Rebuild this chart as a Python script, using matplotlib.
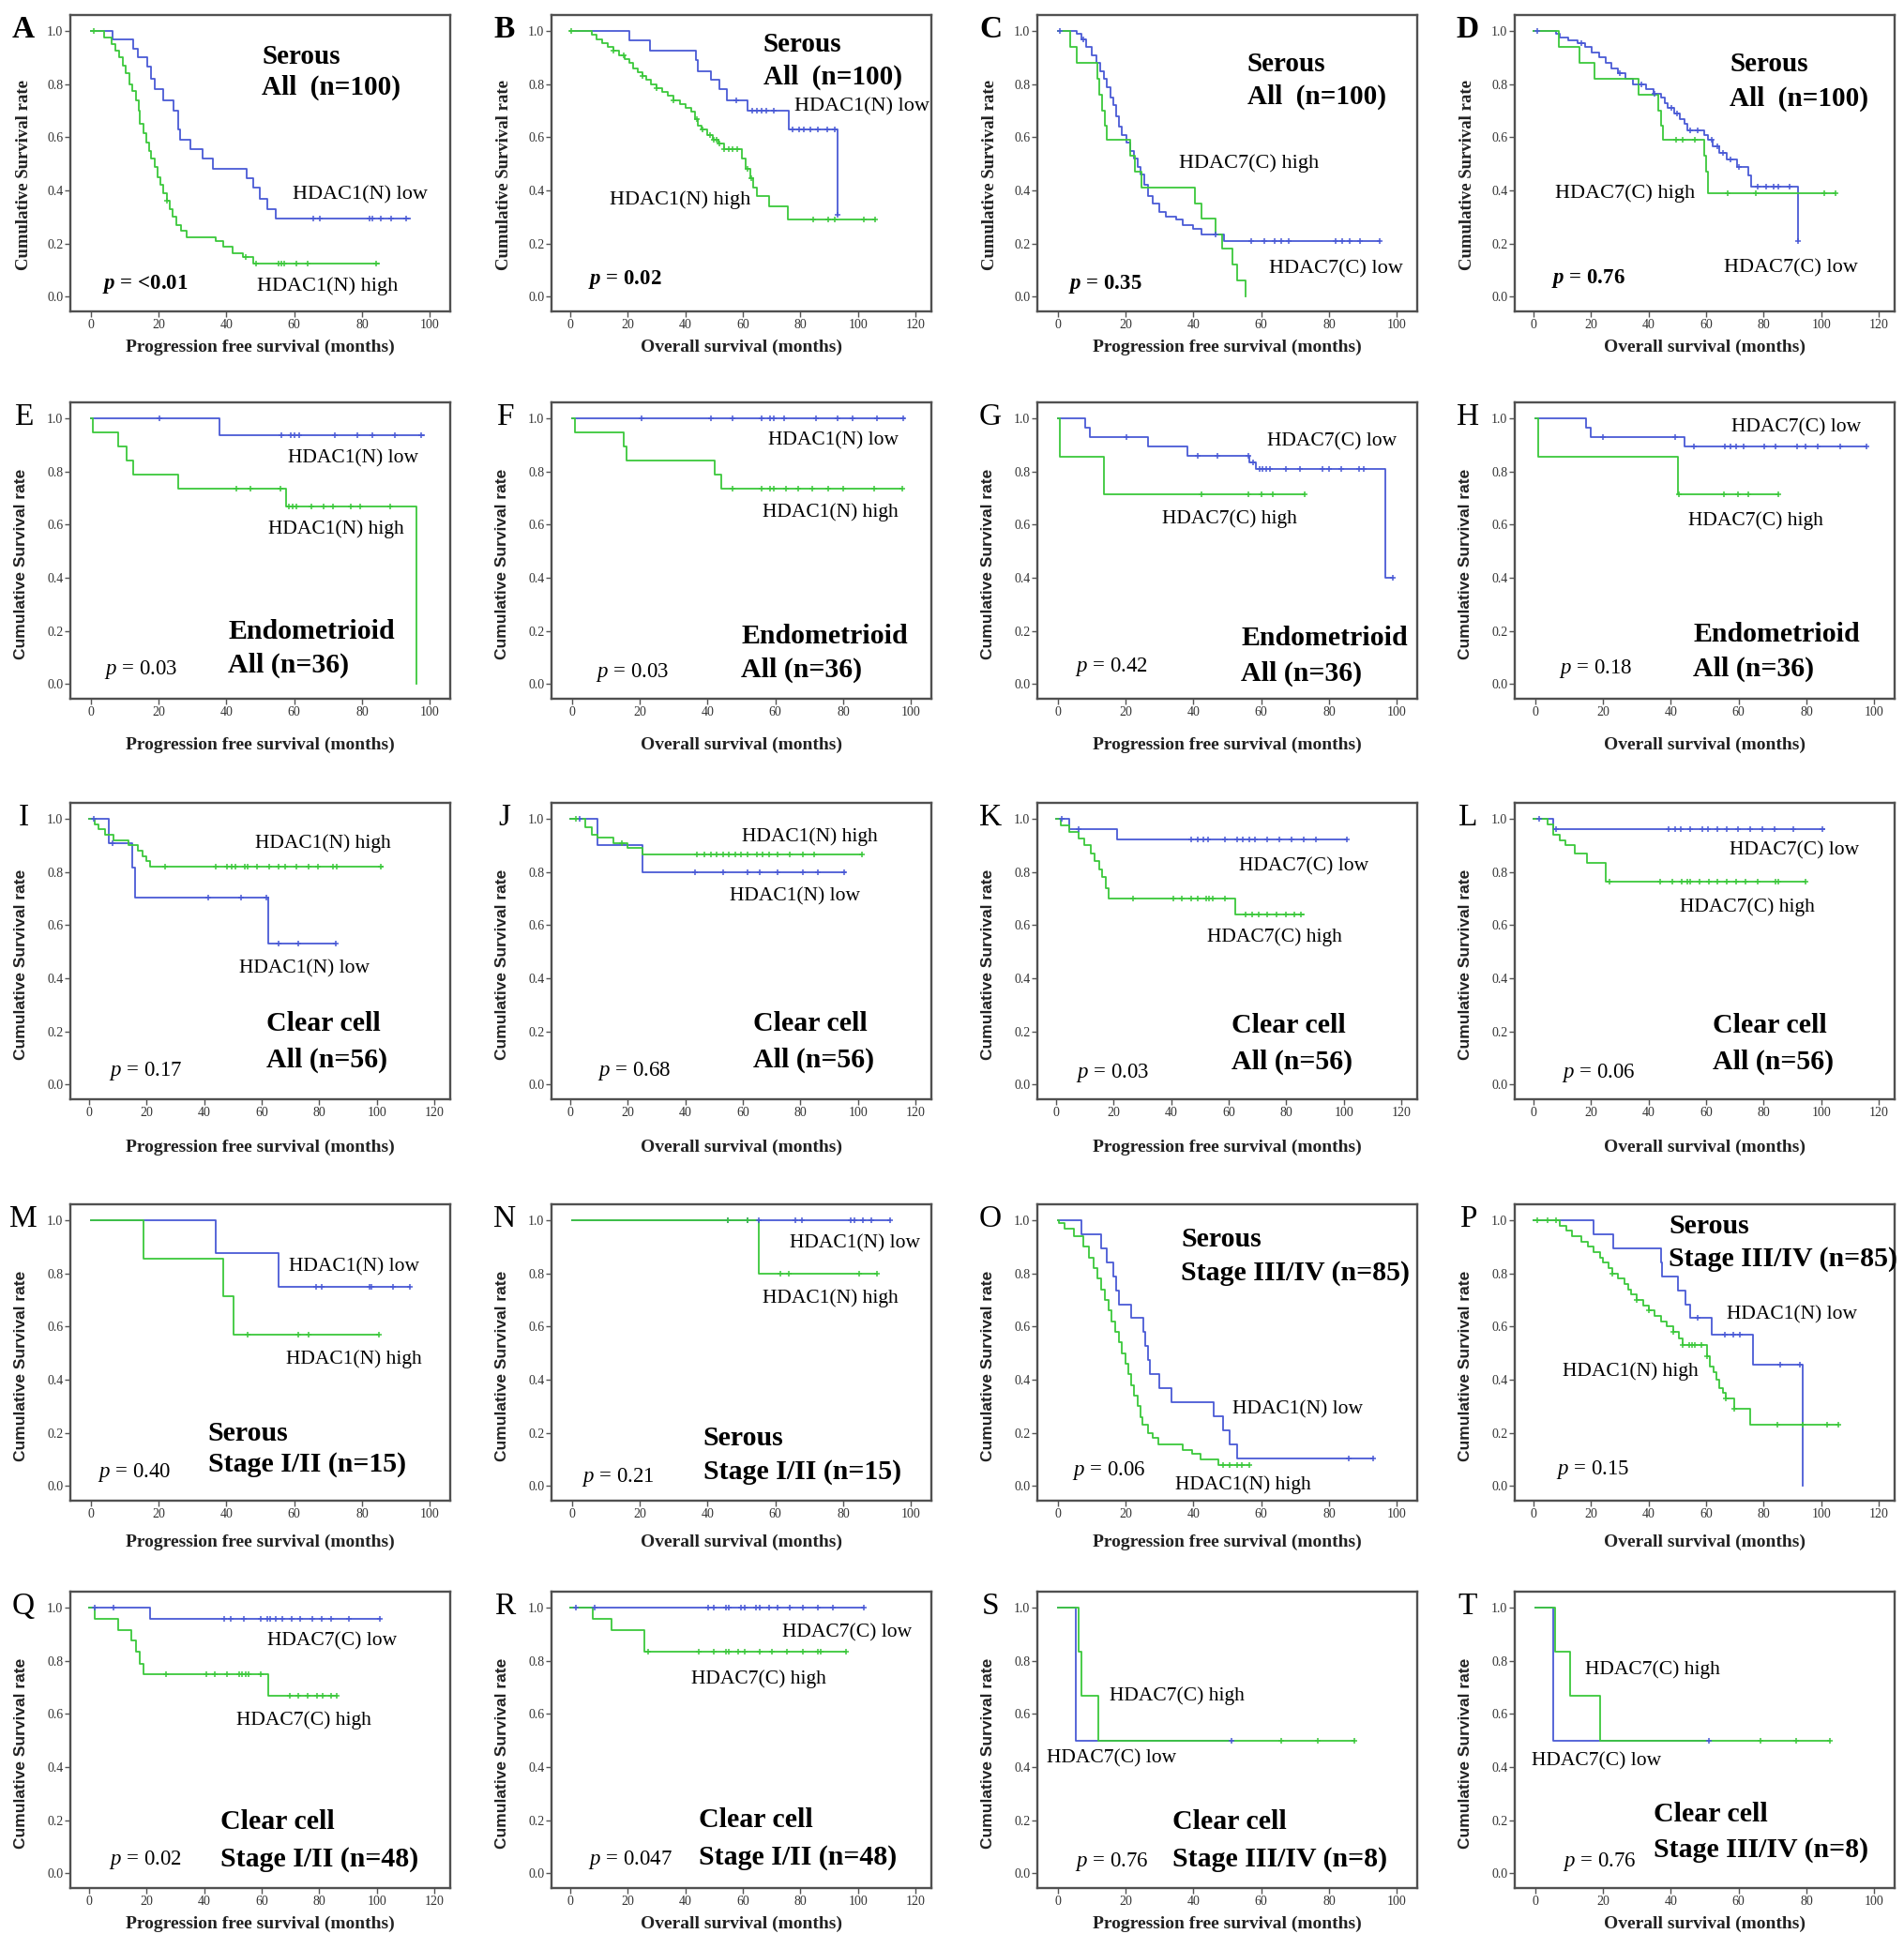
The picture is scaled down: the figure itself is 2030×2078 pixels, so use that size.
"""Kaplan-Meier panels: HDAC1(N) / HDAC7(C) expression vs survival by histology."""

import matplotlib

matplotlib.use("Agg")

import matplotlib.pyplot as plt
import numpy as np

plt.rcParams["font.family"] = ["Liberation Serif", "DejaVu Serif"]
plt.rcParams["mathtext.fontset"] = "custom"
plt.rcParams["mathtext.rm"] = "Liberation Serif"
plt.rcParams["mathtext.it"] = "Liberation Serif:italic"
plt.rcParams["mathtext.bf"] = "Liberation Serif:bold:italic"

BLUE = "#4a5ad6"
GREEN = "#3cc83c"

# ---- survival curves: step times, survival after step, censor times ----
A_LOW_T = [0, 6.5, 12.5, 13.8, 16.6, 17.8, 18.8, 21.5, 24.5, 25.8, 26.4, 29.5, 33, 36, 46, 48, 50, 52, 54.5, 94]
A_LOW_S = [1.0, 0.967, 0.933, 0.90, 0.867, 0.82, 0.78, 0.74, 0.70, 0.63, 0.59, 0.555, 0.52, 0.48, 0.445, 0.41, 0.37, 0.33, 0.295, 0.295]
A_LOW_C = [65.5, 67.5, 82.3, 83, 85.5, 88.6, 92.9]
A_HIGH_T = [0, 4, 6.3, 7.2, 8.4, 9.5, 10.4, 11.3, 12.2, 13.4, 14.1, 14.6, 15.5, 16.4, 17.3, 17.9, 18.8, 19.6, 20.5, 21.5,
            22.4, 23.3, 24.2, 25.2, 26.6, 28.4, 37, 39, 41.8, 45, 48, 85]
A_HIGH_S = [1.0, 0.975, 0.95, 0.925, 0.90, 0.87, 0.84, 0.80, 0.775, 0.74, 0.70, 0.65, 0.615, 0.58, 0.55, 0.52, 0.49, 0.45,
            0.42, 0.39, 0.36, 0.33, 0.30, 0.27, 0.25, 0.225, 0.21, 0.19, 0.165, 0.15, 0.125, 0.125]
A_HIGH_C = [1, 22.5, 45.6, 48.7, 55.5, 56.3, 57, 60.6, 63.9, 84.1]

B_LOW_T = [0, 20.7, 27.8, 43.6, 44.5, 49, 52, 54.3, 61.6, 75.8, 92.9, 92.9]
B_LOW_S = [1.0, 0.963, 0.926, 0.89, 0.85, 0.815, 0.78, 0.74, 0.70, 0.63, 0.31, 0.31]
B_LOW_C = [57.8, 63.2, 64.9, 66.5, 68.2, 70.9, 77.4, 79.6, 81.2, 83.4, 86.1, 89.4, 91.8, 92.9]
B_HIGH_T = [0, 7.6, 9, 11, 13, 15, 17, 19, 20.5, 22, 23.5, 25, 26.5, 28, 30, 32, 34, 36, 38, 40, 42, 43.5, 44.5, 45.5,
            47.5, 49.5, 51.5, 53.5, 59.8, 61, 62.5, 63.5, 65, 69, 75.5, 106]
B_HIGH_S = [1.0, 0.985, 0.97, 0.955, 0.94, 0.925, 0.91, 0.895, 0.88, 0.86, 0.845, 0.83, 0.815, 0.80, 0.785, 0.77, 0.755,
            0.74, 0.725, 0.71, 0.695, 0.67, 0.645, 0.63, 0.61, 0.59, 0.575, 0.555, 0.52, 0.48, 0.445, 0.41, 0.38, 0.34,
            0.29, 0.29]
B_HIGH_C = [0.5, 15, 18.5, 25, 30, 36, 44, 46, 48.5, 50, 51, 52, 53.5, 55, 56.5, 58, 61.5, 63, 84.5, 89.5, 92, 102, 106]

C_LOW_T = [0, 5.5, 7, 8.5, 10, 11.5, 12.5, 13.5, 14.5, 15.5, 16.5, 17.3, 18, 19, 20.3, 21.5, 22.5, 23.5, 24.5, 25.5,
           26.5, 28, 30, 32, 35, 37, 40, 42.5, 49, 95]
C_LOW_S = [1.0, 0.99, 0.97, 0.94, 0.91, 0.88, 0.85, 0.82, 0.79, 0.75, 0.72, 0.68, 0.64, 0.61, 0.58, 0.55, 0.52, 0.49,
           0.46, 0.42, 0.38, 0.35, 0.32, 0.30, 0.29, 0.27, 0.255, 0.235, 0.21, 0.21]
C_LOW_C = [0.7, 7.5, 46.5, 57, 61, 64, 66, 68, 82, 84, 86, 89, 95]
C_HIGH_T = [0, 3.7, 5.6, 11.6, 12.3, 13, 13.8, 14.4, 21.4, 22.8, 24.7, 40.5, 42.3, 46.5, 48.4, 51.6, 53, 55.3]
C_HIGH_S = [1.0, 0.94, 0.88, 0.82, 0.76, 0.70, 0.645, 0.59, 0.53, 0.47, 0.41, 0.35, 0.295, 0.235, 0.18, 0.12, 0.06, 0.0]
C_HIGH_C = []

D_LOW_T = [0, 7.8, 9, 12, 15.3, 18, 20.2, 22.9, 25, 27.2, 29.3, 32, 34.7, 39, 41.7, 44.4, 45.5, 46.6, 48.8, 50.9,
           52.5, 53.6, 59.5, 60.6, 62.2, 64.4, 67, 70.9, 74.6, 75.7, 91.9, 91.9]
D_LOW_S = [1.0, 0.99, 0.975, 0.965, 0.955, 0.94, 0.92, 0.90, 0.88, 0.86, 0.84, 0.82, 0.80, 0.78, 0.765, 0.75, 0.73,
           0.71, 0.69, 0.67, 0.65, 0.625, 0.61, 0.59, 0.565, 0.54, 0.515, 0.49, 0.455, 0.415, 0.21, 0.21]
D_LOW_C = [1.3, 16.5, 30, 37.5, 42, 48, 50, 54.5, 57, 62, 64, 66, 68.5, 71.5, 78, 81, 83.5, 85, 89, 91.9]
D_HIGH_T = [0, 8.8, 15.9, 21.3, 36.4, 43.4, 44.4, 45, 59.5, 60, 60.6, 105]
D_HIGH_S = [1.0, 0.94, 0.88, 0.82, 0.76, 0.70, 0.645, 0.59, 0.53, 0.47, 0.39, 0.39]
D_HIGH_C = [49.5, 52, 56, 67.6, 77.3, 101, 105]

E_LOW_T = [0, 38, 98.2]
E_LOW_S = [1.0, 0.935, 0.935]
E_LOW_C = [20.2, 56.3, 58.9, 60.2, 61.6, 72, 78.6, 83, 89.8, 97.3]
E_HIGH_T = [0, 0.5, 8, 10.7, 12.5, 25.9, 57.5, 96]
E_HIGH_S = [1.0, 0.947, 0.895, 0.842, 0.79, 0.737, 0.667, 0.0]
E_HIGH_C = [42.9, 47, 55.9, 58.5, 59.5, 60.7, 65, 68.8, 71.4, 76.8, 79.5, 88.4]

F_LOW_T = [0, 98]
F_LOW_S = [1.0, 1.0]
F_LOW_C = [20.5, 41, 47.3, 56, 58.4, 59.6, 62.7, 72.1, 78.4, 82.9, 90, 97.7]
F_HIGH_T = [0, 1, 15.2, 16, 42, 44, 97.5]
F_HIGH_S = [1.0, 0.947, 0.895, 0.842, 0.79, 0.737, 0.737]
F_HIGH_C = [47.3, 56, 58.4, 59.6, 63, 66.6, 71, 75.5, 80, 89, 97.5]

G_LOW_T = [0, 8.1, 9.5, 26.6, 38.2, 56.5, 58.3, 96.6, 98.7]
G_LOW_S = [1.0, 0.965, 0.93, 0.895, 0.86, 0.835, 0.81, 0.40, 0.40]
G_LOW_C = [20.3, 41.3, 47.2, 56.2, 57.5, 59.5, 60.5, 61.5, 62.5, 67.3, 71.3, 78.1, 79.9, 83.5, 88.9, 90.3, 98.7]
G_HIGH_T = [0, 0.5, 13.5, 72.7]
G_HIGH_S = [1.0, 0.857, 0.714, 0.714]
G_HIGH_C = [42.5, 56.2, 60.1, 63.4, 72.7]

H_LOW_T = [0, 15, 16.4, 44, 97.7]
H_LOW_S = [1.0, 0.964, 0.929, 0.893, 0.893]
H_LOW_C = [20, 41.4, 46.8, 56, 57.5, 59.3, 61.4, 67.5, 71, 77.3, 79.8, 83.2, 90, 97.7]
H_HIGH_T = [0, 1, 42, 71.8]
H_HIGH_S = [1.0, 0.857, 0.714, 0.714]
H_HIGH_C = [42.5, 55.7, 59.8, 62.9, 71.8]

I_LOW_T = [0, 7, 14.9, 15.9, 62.2, 85.6]
I_LOW_S = [1.0, 0.909, 0.818, 0.705, 0.53, 0.53]
I_LOW_C = [1.7, 8.1, 41.4, 52.7, 61.6, 65.8, 72.6, 85.6]
I_HIGH_T = [0, 2, 3.2, 5.5, 8.5, 13.8, 17, 18.5, 20, 21.3, 102]
I_HIGH_S = [1.0, 0.98, 0.96, 0.94, 0.92, 0.90, 0.88, 0.86, 0.84, 0.82, 0.82]
I_HIGH_C = [26.5, 44, 48, 49.5, 51, 54, 55.2, 58.4, 62.7, 65.8, 68, 72.2, 76.4, 79.6, 84.9, 86, 101.3]

J_LOW_T = [0, 9.6, 25, 95.5]
J_LOW_S = [1.0, 0.90, 0.80, 0.80]
J_LOW_C = [3.2, 43.5, 53, 61.6, 65.8, 72, 80.7, 86, 95.1]
J_HIGH_T = [0, 5.3, 7.4, 9.6, 14.9, 20, 25, 101.5]
J_HIGH_S = [1.0, 0.97, 0.94, 0.93, 0.91, 0.89, 0.865, 0.865]
J_HIGH_C = [2, 17.8, 43.9, 46.7, 48.8, 50.9, 53, 55.2, 57.3, 59.4, 61.6, 64.8, 66.9, 69, 72.2, 76.4, 80.7, 84.9, 101.5]

K_LOW_T = [0, 4.7, 21.2, 101]
K_LOW_S = [1.0, 0.962, 0.923, 0.923]
K_LOW_C = [2, 7.8, 47, 49.1, 51.2, 52.9, 58.6, 62.9, 65, 67.1, 69.2, 73.4, 77.7, 81.9, 86.2, 90.4, 101]
K_HIGH_T = [0, 1.5, 4.5, 7.8, 9.9, 12.1, 13.5, 15, 16.1, 17.2, 18.4, 62.4, 86]
K_HIGH_S = [1.0, 0.975, 0.95, 0.925, 0.90, 0.87, 0.84, 0.81, 0.78, 0.74, 0.70, 0.64, 0.64]
K_HIGH_C = [26.9, 40.6, 43.8, 47, 49.1, 52.3, 53.3, 54.4, 58.6, 66, 68.2, 70.3, 73.4, 76.6, 79.8, 82.9, 85]

L_LOW_T = [0, 7, 101]
L_LOW_S = [1.0, 0.962, 0.962]
L_LOW_C = [2, 8, 47, 49.1, 51.2, 54.3, 58.6, 60.7, 63.8, 67, 71.2, 75.4, 79.7, 83.9, 90.3, 100.5]
L_HIGH_T = [0, 4.9, 7, 9, 11.2, 14.4, 18.6, 25.2, 94.7]
L_HIGH_S = [1.0, 0.98, 0.94, 0.92, 0.90, 0.87, 0.835, 0.765, 0.765]
L_HIGH_C = [26.4, 44, 48.2, 51.4, 53.5, 54.5, 57.7, 60.9, 64, 67.2, 70.4, 73.6, 77.8, 84.1, 85.2, 94.7]

M_LOW_T = [0, 37, 55.4, 94]
M_LOW_S = [1.0, 0.875, 0.75, 0.75]
M_LOW_C = [66.4, 68.2, 82.1, 82.9, 89.1, 94]
M_HIGH_T = [0, 15.5, 39, 42, 85]
M_HIGH_S = [1.0, 0.857, 0.714, 0.571, 0.571]
M_HIGH_C = [46.4, 61.1, 64.3, 85]

N_LOW_T = [0, 93.75]
N_LOW_S = [1.0, 1.0]
N_LOW_C = [45.9, 51.8, 55, 66, 67.9, 82.1, 83.4, 85.9, 88.4, 93.75]
N_HIGH_T = [0, 55, 90]
N_HIGH_S = [1.0, 0.80, 0.80]
N_HIGH_C = [45.9, 51.8, 61.4, 63.9, 84.8, 90]

O_LOW_T = [0, 7, 12.8, 14.6, 16.5, 17.3, 18, 21.7, 25.3, 25.9, 26.5, 27.2, 30, 33.6, 46, 48.8, 50.7, 52.8, 92.9]
O_LOW_S = [1.0, 0.947, 0.895, 0.842, 0.79, 0.737, 0.684, 0.632, 0.579, 0.526, 0.474, 0.421, 0.368, 0.316, 0.263,
           0.21, 0.158, 0.105, 0.105]
O_LOW_C = [85.8, 92.9]
O_HIGH_T = [0, 0.4, 2.1, 4.8, 7.5, 9.1, 10.5, 11.7, 12.8, 14, 15, 15.9, 16.9, 18.1, 19, 19.9, 20.8, 21.7, 22.6, 23.5,
            24.3, 25, 26.5, 28, 29.7, 36.8, 39.5, 42.2, 47.5, 56.4]
O_HIGH_S = [1.0, 0.99, 0.97, 0.94, 0.90, 0.86, 0.82, 0.78, 0.74, 0.70, 0.66, 0.62, 0.58, 0.54, 0.50, 0.46, 0.42, 0.38,
            0.34, 0.30, 0.26, 0.23, 0.20, 0.18, 0.155, 0.135, 0.12, 0.10, 0.08, 0.08]
O_HIGH_C = [48.8, 50.7, 52.8, 54.3, 56.4]

P_LOW_T = [0, 20.9, 27.7, 44.3, 44.8, 50.3, 52.9, 54.6, 61.8, 76.3, 93.4, 93.4]
P_LOW_S = [1.0, 0.947, 0.895, 0.842, 0.79, 0.737, 0.684, 0.632, 0.568, 0.455, 0.0, 0.0]
P_LOW_C = [57, 66.5, 69.5, 71.6, 85.7, 92.5]
P_HIGH_T = [0, 9.2, 11.3, 13.4, 16.5, 18.8, 21, 23, 24.2, 26.2, 27.3, 29.5, 31.6, 32.8, 33.9, 35.8, 38, 40, 42.1, 44.3,
            46.4, 48.6, 50.5, 51.8, 60.3, 61.4, 62.5, 63.6, 64.6, 65.7, 66.7, 69.9, 75.3, 106]
P_HIGH_S = [1.0, 0.98, 0.96, 0.94, 0.92, 0.90, 0.88, 0.86, 0.84, 0.82, 0.80, 0.78, 0.76, 0.74, 0.72, 0.70, 0.68, 0.66,
            0.64, 0.62, 0.60, 0.58, 0.555, 0.53, 0.49, 0.45, 0.43, 0.40, 0.37, 0.35, 0.33, 0.29, 0.23, 0.23]
P_HIGH_C = [1.3, 4.9, 7.7, 27.3, 35.8, 40, 48.6, 51.8, 54, 55.1, 56.1, 58.2, 60.3, 66.7, 69.9, 84.9, 93.4, 101.9, 106]

Q_LOW_T = [0, 21.2, 101]
Q_LOW_S = [1.0, 0.958, 0.958]
Q_LOW_C = [2.1, 8.5, 47, 49.1, 53.9, 59.7, 61.8, 62.9, 65, 67.1, 70.3, 73.4, 77.7, 80.9, 84, 90.4, 101]
Q_HIGH_T = [0, 2.1, 10, 14.8, 16.3, 17.5, 19, 62.2, 86]
Q_HIGH_S = [1.0, 0.958, 0.917, 0.875, 0.833, 0.79, 0.75, 0.667, 0.667]
Q_HIGH_C = [26.9, 40.6, 43.8, 48, 52.3, 53.3, 54.4, 55.5, 59.7, 69.7, 72.8, 76, 79.2, 81.3, 84, 86]

R_LOW_T = [0, 102]
R_LOW_S = [1.0, 1.0]
R_LOW_C = [2.1, 8.5, 47.8, 49.9, 54.1, 55.2, 59.4, 60.5, 64.7, 65.8, 69, 72.2, 76.4, 80.7, 86, 91.3, 102]
R_HIGH_T = [0, 7.9, 14.4, 25.9, 96]
R_HIGH_S = [1.0, 0.958, 0.917, 0.833, 0.833]
R_HIGH_C = [27.2, 44.6, 49.9, 54.1, 55.2, 58.4, 60.5, 65.8, 70, 75.4, 80.7, 86, 87, 96]

S_LOW_T = [0, 5.2, 51.2]
S_LOW_S = [1.0, 0.5, 0.5]
S_LOW_C = [51.2]
S_HIGH_T = [0, 6.1, 7, 12, 87.5]
S_HIGH_S = [1.0, 0.833, 0.667, 0.5, 0.5]
S_HIGH_C = [66, 76.7, 87.5]

T_LOW_T = [0, 5.4, 51.3]
T_LOW_S = [1.0, 0.5, 0.5]
T_LOW_C = [51.3]
T_HIGH_T = [0, 6, 10.2, 19.1, 87]
T_HIGH_S = [1.0, 0.833, 0.667, 0.5, 0.5]
T_HIGH_C = [66.4, 77.1, 87]

# ---- panel annotations ----
PANEL_IDS = "ABCDEFGHIJKLMNOPQRST"
X_MAX = [100, 120, 100, 120, 100, 100, 100, 100, 120, 120, 120, 120, 100, 100, 100, 120, 120, 120, 100, 100]
P_VALUES = ["<0.01", "0.02", "0.35", "0.76", "0.03", "0.03", "0.42", "0.18", "0.17", "0.68",
            "0.03", "0.06", "0.40", "0.21", "0.06", "0.15", "0.02", "0.047", "0.76", "0.76"]
HISTOLOGY = ["Serous"] * 4 + ["Endometrioid"] * 4 + ["Clear cell"] * 4 + ["Serous"] * 4 + ["Clear cell"] * 4
COHORT = (["All  (n=100)"] * 4 + ["All (n=36)"] * 4 + ["All (n=56)"] * 4
          + ["Stage I/II (n=15)"] * 2 + ["Stage III/IV (n=85)"] * 2
          + ["Stage I/II (n=48)"] * 2 + ["Stage III/IV (n=8)"] * 2)
MARKER = ["HDAC1(N)", "HDAC1(N)", "HDAC7(C)", "HDAC7(C)"] * 3 + ["HDAC1(N)"] * 4 + ["HDAC7(C)"] * 4
X_LABELS = ["Progression free survival (months)", "Overall survival (months)"]
Y_LABEL = "Cumulative Survival rate"

# text anchors in axes fractions: title x, title y1, title y2, low x, low y, high x, high y, p x, p y
TEXT_POS = {
    "A": (0.504, 0.858, 0.754, 0.585, 0.394, 0.491, 0.085, 0.084, 0.091),
    "B": (0.557, 0.900, 0.790, 0.640, 0.690, 0.154, 0.375, 0.097, 0.107),
    "C": (0.552, 0.834, 0.723, 0.609, 0.143, 0.374, 0.500, 0.082, 0.092),
    "D": (0.566, 0.835, 0.718, 0.551, 0.146, 0.105, 0.397, 0.097, 0.111),
    "E": (0.416, 0.225, 0.114, 0.574, 0.810, 0.522, 0.571, 0.089, 0.098),
    "F": (0.499, 0.210, 0.098, 0.570, 0.870, 0.555, 0.629, 0.115, 0.089),
    "G": (0.537, 0.203, 0.085, 0.606, 0.867, 0.328, 0.608, 0.098, 0.108),
    "H": (0.470, 0.218, 0.101, 0.571, 0.915, 0.456, 0.601, 0.116, 0.101),
    "I": (0.515, 0.254, 0.133, 0.445, 0.441, 0.487, 0.863, 0.102, 0.095),
    "J": (0.530, 0.254, 0.133, 0.470, 0.683, 0.502, 0.886, 0.120, 0.095),
    "K": (0.510, 0.247, 0.127, 0.532, 0.785, 0.448, 0.547, 0.101, 0.089),
    "L": (0.522, 0.247, 0.127, 0.566, 0.839, 0.434, 0.649, 0.123, 0.089),
    "M": (0.362, 0.225, 0.121, 0.576, 0.790, 0.567, 0.479, 0.071, 0.095),
    "N": (0.399, 0.210, 0.098, 0.626, 0.867, 0.556, 0.683, 0.079, 0.079),
    "O": (0.378, 0.880, 0.766, 0.513, 0.307, 0.364, 0.054, 0.091, 0.101),
    "P": (0.405, 0.927, 0.816, 0.558, 0.627, 0.125, 0.437, 0.108, 0.104),
    "Q": (0.394, 0.222, 0.095, 0.518, 0.832, 0.437, 0.565, 0.100, 0.095),
    "R": (0.387, 0.229, 0.102, 0.608, 0.861, 0.369, 0.705, 0.096, 0.095),
    "S": (0.356, 0.222, 0.095, 0.025, 0.437, 0.190, 0.649, 0.100, 0.089),
    "T": (0.366, 0.247, 0.127, 0.044, 0.427, 0.184, 0.737, 0.125, 0.089),
}

CURVES = {pid: ((globals()[f"{pid}_LOW_T"], globals()[f"{pid}_LOW_S"], globals()[f"{pid}_LOW_C"]),
                (globals()[f"{pid}_HIGH_T"], globals()[f"{pid}_HIGH_S"], globals()[f"{pid}_HIGH_C"]))
          for pid in PANEL_IDS}

FIG_W, FIG_H = 2031, 2078
COL_LEFT = [75, 588, 1106, 1615]
ROW_TOP = [16, 429, 856, 1284, 1697]
BOX_W, BOX_H = 405, 316
XLAB_GAP = [38, 49, 51, 44, 38]


def draw_curve(axis, times, surv, color):
    n = min(len(times), len(surv))
    t = np.asarray(times[:n], dtype=float)
    s = np.asarray(surv[:n], dtype=float)
    axis.step(t, s, where="post", color=color, linewidth=1.3, zorder=3)
    return t, s


def draw_censors(axis, t, s, cens, color):
    if not cens:
        return
    c = np.asarray(cens, dtype=float)
    idx = np.clip(np.searchsorted(t, c, side="right") - 1, 0, len(s) - 1)
    axis.plot(c, s[idx], linestyle="none", marker="+", markersize=5, markeredgewidth=1.1, color=color, zorder=4)


def draw_panel(fig, index):
    pid = PANEL_IDS[index]
    row, col = divmod(index, 4)
    left, top = COL_LEFT[col], ROW_TOP[row]
    axis = fig.add_axes([left / FIG_W, 1 - (top + BOX_H) / FIG_H, BOX_W / FIG_W, BOX_H / FIG_H])

    xmax = X_MAX[index]
    if xmax == 100:
        axis.set_xlim(-6, 106)
    else:
        axis.set_xlim(-6.5, 125.5)
    axis.set_ylim(-0.055, 1.06)
    axis.set_xticks(np.arange(0, xmax + 1, 20))
    axis.set_yticks(np.arange(0, 1.01, 0.2))
    axis.set_yticklabels([f"{v:.1f}" for v in np.arange(0, 1.01, 0.2)])
    axis.tick_params(direction="out", length=4, width=1, colors="#555555", labelsize=10, pad=1.5,
                     labelcolor="#333333")
    for spine in axis.spines.values():
        spine.set_color("#505050")
        spine.set_linewidth(1.7)

    (lt, ls, lc), (ht, hs, hc) = CURVES[pid]
    t_low, s_low = draw_curve(axis, lt, ls, BLUE)
    t_high, s_high = draw_curve(axis, ht, hs, GREEN)
    draw_censors(axis, t_low, s_low, lc, BLUE)
    draw_censors(axis, t_high, s_high, hc, GREEN)

    tx, t1y, t2y, lx, ly, hx, hy, px, py = TEXT_POS[pid]
    first_row = row == 0
    title_size = 21 if first_row else 21.5
    label_size = 16 if first_row else 15.5
    axis.text(tx, t1y, HISTOLOGY[index], transform=axis.transAxes, fontsize=title_size, fontweight="bold",
              ha="left", va="center")
    axis.text(tx, t2y, COHORT[index], transform=axis.transAxes, fontsize=title_size, fontweight="bold",
              ha="left", va="center")
    axis.text(lx, ly, f"{MARKER[index]} low", transform=axis.transAxes, fontsize=label_size, ha="left", va="center")
    axis.text(hx, hy, f"{MARKER[index]} high", transform=axis.transAxes, fontsize=label_size, ha="left", va="center")
    if first_row:
        p_text = r"$\mathbf{p}$ = " + P_VALUES[index]
        axis.text(px, py, p_text, transform=axis.transAxes, fontsize=16.5, fontweight="bold", ha="left", va="center")
    else:
        p_text = r"$\mathit{p}$ = " + P_VALUES[index]
        axis.text(px, py, p_text, transform=axis.transAxes, fontsize=16.5, ha="left", va="center")

    axis.text(0.5, -XLAB_GAP[row] / BOX_H, X_LABELS[col % 2], transform=axis.transAxes, fontsize=14,
              fontweight="bold", ha="center", va="center", color="#222222")
    if first_row:
        axis.text(-50 / BOX_W, 0.46, Y_LABEL, transform=axis.transAxes, rotation=90, fontsize=13.5,
                  fontweight="bold", ha="center", va="center", color="#222222")
    else:
        axis.text(-52 / BOX_W, 0.455, Y_LABEL, transform=axis.transAxes, rotation=90, fontsize=12.5,
                  fontweight="bold", ha="center", va="center", color="#222222",
                  family=["Liberation Sans", "DejaVu Sans"])

    fig.text((left - 50) / FIG_W, 1 - (top + 16) / FIG_H, pid, fontsize=24,
             fontweight="bold" if first_row else "normal", ha="center", va="center")


def main():
    fig = plt.figure(figsize=(FIG_W / 100, FIG_H / 100), dpi=100)
    fig.patch.set_facecolor("white")
    for index in range(len(PANEL_IDS)):
        draw_panel(fig, index)
    fig.savefig("out.png", dpi=100, facecolor="white")
    plt.close(fig)


if __name__ == "__main__":
    main()
